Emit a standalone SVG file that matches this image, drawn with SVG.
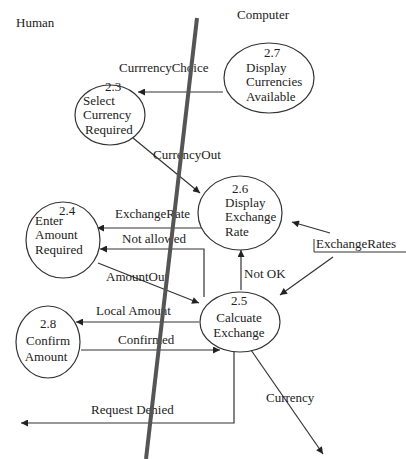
<svg xmlns="http://www.w3.org/2000/svg" width="406" height="459" viewBox="0 0 406 459">
<defs>
<marker id="ah" viewBox="0 0 10 10" refX="10" refY="5" markerWidth="9" markerHeight="7" markerUnits="userSpaceOnUse" orient="auto"><path d="M0,0 L10,5 L0,10 z" fill="#222"/></marker>
<style>
text{font-family:"Liberation Serif","DejaVu Serif",serif;font-size:13px;fill:#222}
.n ellipse{fill:#fff;stroke:#333;stroke-width:1.2}
.c line,.c polyline{stroke:#333;stroke-width:1.2;fill:none;marker-end:url(#ah)}
.m{text-anchor:middle}
</style>
</defs>
<rect width="406" height="459" fill="#fff"/>
<text x="16" y="27">Human</text>
<text x="237" y="19">Computer</text>
<g class="c" id="connectors">
<line x1="223" y1="92" x2="138" y2="92"/>
<line x1="133" y1="138" x2="200" y2="193"/>
<line x1="203" y1="228" x2="97" y2="228"/>
<polyline points="204,297 204,249 100,249"/>
<line x1="241" y1="290" x2="241" y2="250"/>
<line x1="330" y1="233" x2="292" y2="222"/>
<line x1="333" y1="257" x2="280" y2="295"/>
<line x1="98" y1="263" x2="199" y2="303"/>
<line x1="199" y1="322" x2="76" y2="322"/>
<line x1="81" y1="350" x2="220" y2="350"/>
<polyline points="234,350 234,423 21,423"/>
<line x1="251" y1="350" x2="323" y2="454"/>
</g>
<g id="labels">
<text x="119" y="72">CurrrencyChoice</text>
<text x="153" y="159">CurrencyOut</text>
<text x="115" y="218">ExchangeRate</text>
<text x="122" y="243">Not allowed</text>
<text x="244" y="278">Not OK</text>
<text x="106" y="281">AmountOut</text>
<text x="96" y="315">Local Amount</text>
<text x="118" y="344">Confirmed</text>
<text x="91" y="414">Request Denied</text>
<text x="266" y="402">Currency</text>
</g>
<g id="n27" class="n"><ellipse cx="269" cy="78" rx="45" ry="35"/><text x="272" y="57" class="m">2.7</text><text x="246" y="72">Display</text><text x="246" y="86">Currencies</text><text x="246" y="101">Available</text></g>
<g id="n23" class="n"><ellipse cx="110" cy="115" rx="35" ry="30"/><text x="113" y="91" class="m">2.3</text><text x="83" y="105">Select</text><text x="83" y="119">Currency</text><text x="85" y="134">Required</text></g>
<g id="n26" class="n"><ellipse cx="240" cy="213" rx="42" ry="37"/><text x="240" y="193" class="m">2.6</text><text x="225" y="207">Display</text><text x="225" y="221">Exchange</text><text x="225" y="236">Rate</text></g>
<g id="n24" class="n"><ellipse cx="63" cy="240" rx="37" ry="38"/><text x="67" y="215" class="m">2.4</text><text x="35" y="225">Enter</text><text x="35" y="239">Amount</text><text x="35" y="254">Required</text></g>
<g id="n25" class="n"><ellipse cx="240" cy="322" rx="40" ry="30"/><text x="239" y="305" class="m">2.5</text><text x="239" y="322" class="m">Calcuate</text><text x="239" y="337" class="m">Exchange</text></g>
<g id="n28" class="n"><ellipse cx="48" cy="342" rx="32" ry="36"/><text x="48" y="328" class="m">2.8</text><text x="48" y="345" class="m">Confirm</text><text x="46" y="361" class="m">Amount</text></g>
<g id="store">
<polyline points="314,239 314,252 406,252" fill="none" stroke="#333" stroke-width="1"/>
<text x="316" y="248">ExchangeRates</text>
</g>
<line x1="197" y1="18" x2="146" y2="459" stroke="#555" stroke-width="4"/>
</svg>
